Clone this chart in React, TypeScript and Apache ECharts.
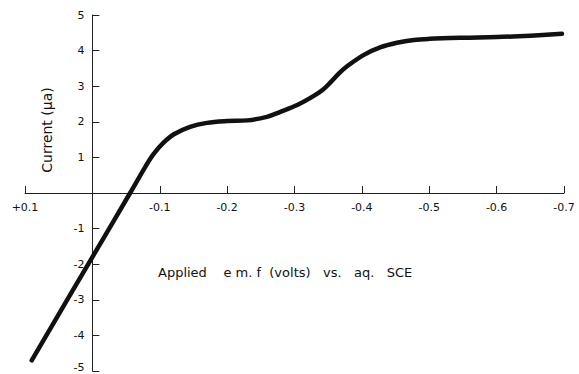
import React, { useEffect, useRef } from "react";
import * as echarts from "echarts";

const voltage = [0.09, 0, -0.056, -0.079, -0.091, -0.106, -0.121, -0.145, -0.17, -0.2, -0.23, -0.259, -0.279, -0.304, -0.328, -0.342, -0.353, -0.366, -0.378, -0.403, -0.427, -0.452, -0.477, -0.5, -0.55, -0.6, -0.65, -0.697];
const current = [-4.7, -1.8, 0, 0.75, 1.1, 1.42, 1.65, 1.86, 1.97, 2.02, 2.04, 2.14, 2.28, 2.47, 2.72, 2.9, 3.1, 3.36, 3.56, 3.88, 4.09, 4.22, 4.3, 4.33, 4.36, 4.38, 4.42, 4.47];

const yAxisTitle = "Current (μa)";
const xAxisTitle = "Applied    e m. f  (volts)   vs.   aq.   SCE";

const FONT = "'DejaVu Sans', 'Liberation Sans', sans-serif";

const GRID = { left: 25, right: 15, top: 15, bottom: 3 };
const W = 579;
const H = 374;
const X_MIN = -0.7;
const X_MAX = 0.1;
const Y_MIN = -5;
const Y_MAX = 5;

export default function App() {
  const ref = useRef<HTMLDivElement>(null);
  useEffect(() => {
    if (!ref.current) return;
    const chart = echarts.init(ref.current, undefined, { renderer: "svg" });
    const data = voltage.map((v, i) => [v, current[i]]);
    const gw = W - GRID.left - GRID.right;
    const gh = H - GRID.top - GRID.bottom;
    // offsets that move the axes onto the zero lines (x axis inverse: max at left)
    const yAxisOffset = -gw * (X_MAX - 0) / (X_MAX - X_MIN);
    const xAxisOffset = -gh * (0 - Y_MIN) / (Y_MAX - Y_MIN);
    chart.setOption({
      animation: false,
      backgroundColor: "#fff",
      grid: { ...GRID, outerBoundsMode: "none", containLabel: false },
      xAxis: {
        type: "value",
        inverse: true,
        min: X_MIN,
        max: X_MAX,
        interval: 0.1,
        position: "bottom",
        offset: xAxisOffset,
        splitLine: { show: false },
        axisLine: { onZero: false, lineStyle: { color: "#222", width: 1 } },
        axisTick: { inside: true, length: 7, lineStyle: { color: "#222" } },
        axisLabel: {
          margin: 9,
          color: "#111",
          fontFamily: FONT,
          fontSize: 11,
          formatter: (v: number) => {
            if (Math.abs(v) < 1e-9) return "";
            return (v > 0 ? "+" : "") + v.toFixed(1);
          },
        },
      },
      yAxis: {
        type: "value",
        min: Y_MIN,
        max: Y_MAX,
        interval: 1,
        position: "left",
        offset: yAxisOffset,
        splitLine: { show: false },
        axisLine: { onZero: false, lineStyle: { color: "#222", width: 1 } },
        axisTick: { inside: true, length: 7, lineStyle: { color: "#222" } },
        axisLabel: {
          margin: 8,
          color: "#111",
          fontFamily: FONT,
          fontSize: 11,
          formatter: (v: number) => {
            if (Math.abs(v) < 1e-9) return "";
            if (v === Y_MIN) return "{low|" + v + "}";
            return String(v);
          },
          rich: {
            low: { fontFamily: FONT, fontSize: 11, color: "#111", padding: [0, 0, 8, 0] },
          },
        },
      },
      graphic: [
        {
          type: "text",
          x: 47,
          y: 130,
          rotation: Math.PI / 2,
          style: {
            text: yAxisTitle,
            fill: "#111",
            font: `14px ${FONT}`,
            align: "center",
            verticalAlign: "middle",
          },
        },
        {
          type: "text",
          x: 158,
          y: 272,
          style: {
            text: xAxisTitle,
            fill: "#111",
            font: `13px ${FONT}`,
            align: "left",
            verticalAlign: "middle",
          },
        },
      ],
      series: [
        {
          type: "line",
          data,
          showSymbol: false,
          smooth: 0.35,
          lineStyle: { color: "#111", width: 4.5, cap: "round", join: "round" },
        },
      ],
    });
    return () => chart.dispose();
  }, []);
  return <div ref={ref} style={{ width: W, height: H, position: "absolute", left: 0, top: 0 }} />;
}
